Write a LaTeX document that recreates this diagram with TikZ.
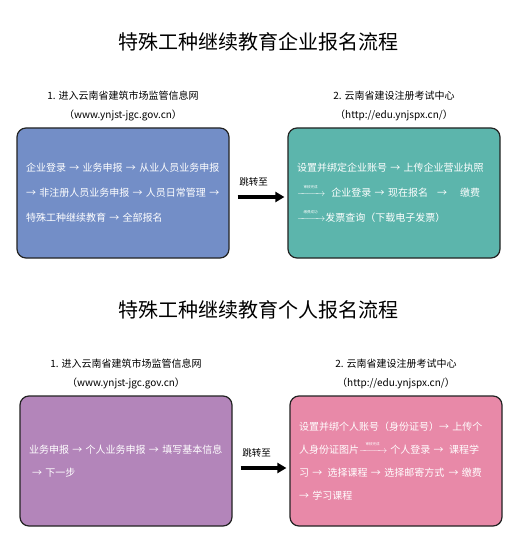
\documentclass[tikz,border=0pt]{standalone}
\usepackage{amsmath}
\usepackage{fontspec}
\setmainfont{Noto Sans CJK SC}
\usetikzlibrary{arrows.meta,positioning}
\definecolor{entblue}{RGB}{115,142,199}
\definecolor{webteal}{RGB}{92,181,172}
\definecolor{perpurple}{RGB}{179,133,186}
\definecolor{webpink}{RGB}{232,137,168}
\definecolor{edge}{RGB}{35,35,35}
\newcommand{\passarrow}[1]{$\xrightarrow{\raisebox{2.5pt}{\hbox{\fontsize{3.5}{4}\selectfont\hspace{4pt}#1\hspace{4pt}}}}$}

\begin{document}
\begin{tikzpicture}[x=1pt, y=-1pt,
  title/.style={font=\fontsize{20}{24}\selectfont},
  head/.style={font=\fontsize{10}{19}\selectfont, align=center, inner sep=1pt},
  box/.style={draw=edge, line width=1.2pt, rounded corners=9pt, fill=#1, text=white, align=left, minimum width=212pt, minimum height=130pt, text width=194pt, font=\fontsize{10}{25}\selectfont},
  jump/.style={-{Triangle[length=9pt,width=10pt]}, line width=3.5pt, shorten <=8pt, shorten >=3pt},
  jumplabel/.style={font=\fontsize{9.5}{12}\selectfont, inner sep=0pt}
]
\useasboundingbox[fill=white] (0,0) rectangle (515,545);

% enterprise flow
\node[title] (enttitle) at (258,42) {特殊工种继续教育企业报名流程};
\node[box=entblue] (ent1) at (123,193) {企业登录 → 业务申报 → 从业人员业务申报\\→ 非注册人员业务申报 → 人员日常管理 →\\特殊工种继续教育 → 全部报名};
\node[box=webteal] (web1) at (394,193) {设置并绑定企业账号 → 上传企业营业执照\\\passarrow{审核完成}\hspace{6pt}企业登录 → 现在报名\hspace{9pt}→\hspace{13pt}缴费\\\passarrow{缴费成功}发票查询（下载电子发票）};
\node[head, above=5pt of ent1] (enthead1) {1. 进入云南省建筑市场监管信息网\\（www.ynjst-jgc.gov.cn）};
\node[head, above=5pt of web1] (enthead2) {2. 云南省建设注册考试中心\\（http://edu.ynjspx.cn/）};
\draw[jump] ([yshift=-4pt]ent1.east) -- node[jumplabel, pos=0, anchor=south west, xshift=8pt, yshift=9pt] {跳转至} ([yshift=-4pt]web1.west);

% personal flow
\node[title] (pertitle) at (258,310) {特殊工种继续教育个人报名流程};
\node[box=perpurple, font=\fontsize{10}{23}\selectfont] (per1) at (126,461) {业务申报 → 个人业务申报 → 填写基本信息\\\hspace{3pt}→ 下一步};
\node[box=webpink, font=\fontsize{10}{23}\selectfont] (web2) at (396,461) {设置并绑个人账号（身份证号）→ 上传个\\人身份证图片\passarrow{审核完成}\hspace{3pt}个人登录 → \hspace{2pt}课程学\\习 → \hspace{2pt}选择课程 → 选择邮寄方式 \hspace{1pt}→ 缴费\\→ 学习课程};
\node[head, above=5pt of per1] (perhead1) {1. 进入云南省建筑市场监管信息网\\（www.ynjst-jgc.gov.cn）};
\node[head, above=5pt of web2] (perhead2) {2. 云南省建设注册考试中心\\（http://edu.ynjspx.cn/）};
\draw[jump] ([yshift=-7pt]per1.east) -- node[jumplabel, pos=0, anchor=south west, xshift=8pt, yshift=9pt] {跳转至} ([yshift=-7pt]web2.west);
\end{tikzpicture}
\end{document}
